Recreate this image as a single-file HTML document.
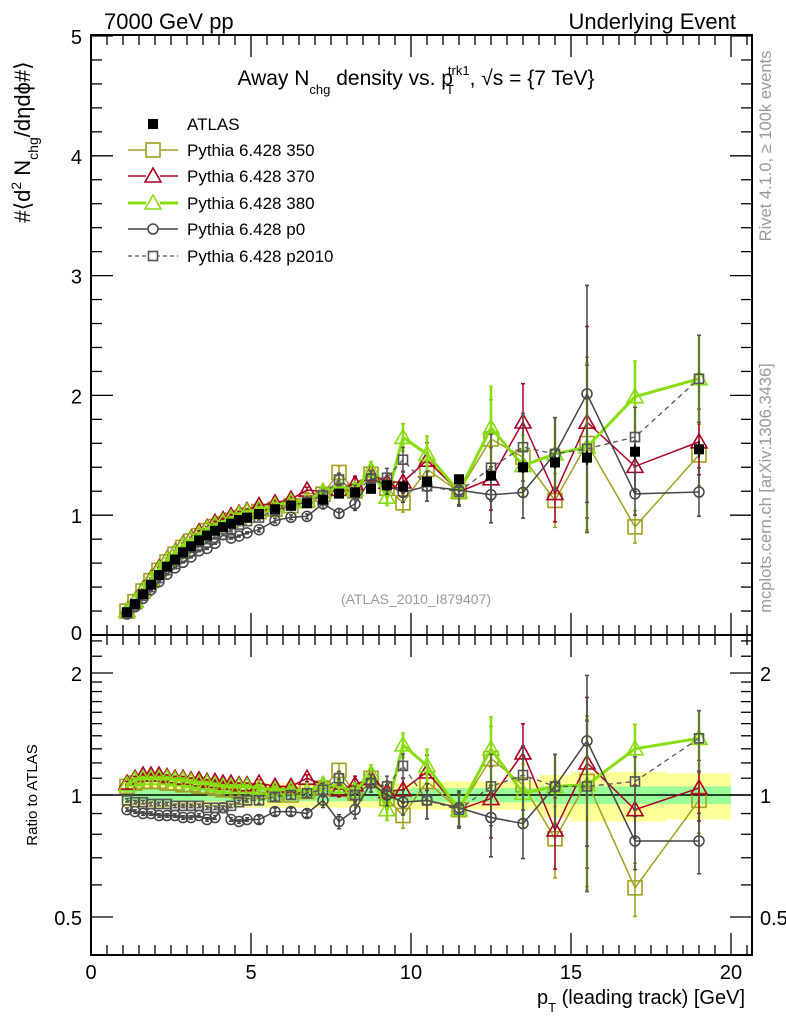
<!DOCTYPE html>
<html><head><meta charset="utf-8"><style>
html,body{margin:0;padding:0;background:#fff;}
svg{display:block;font-family:"Liberation Sans",sans-serif;}
</style></head><body>
<svg id="chart" width="786" height="1024" viewBox="0 0 786 1024" xmlns="http://www.w3.org/2000/svg">
<rect width="786" height="1024" fill="#fff"/>
<g id="bands"></g>
<g id="axes"></g>
<g id="series"></g>
<text x="104" y="29" font-size="22">7000 GeV pp</text>
<text x="736" y="29" font-size="22" text-anchor="end">Underlying Event</text>
<text x="416" y="85" font-size="21" text-anchor="middle">Away N<tspan font-size="13" dy="9">chg</tspan><tspan dy="-9"> density vs. p</tspan><tspan font-size="13" dy="9" dx="-7">T</tspan><tspan font-size="13" dy="-19" dx="-6">trk1</tspan><tspan dy="10">, √s = {7 TeV}</tspan></text>
<text x="416" y="604" font-size="14" fill="#999" text-anchor="middle">(ATLAS_2010_I879407)</text>
<text transform="translate(771,146) rotate(-90)" font-size="16.5" fill="#999" text-anchor="middle">Rivet 4.1.0, ≥ 100k events</text>
<text transform="translate(771,488) rotate(-90)" font-size="16.5" fill="#999" text-anchor="middle">mcplots.cern.ch [arXiv:1306.3436]</text>
<text transform="translate(30,142) rotate(-90)" font-size="22" text-anchor="middle">#⟨d<tspan font-size="14" dy="-9">2</tspan><tspan dy="9"> N</tspan><tspan font-size="14" dy="8">chg</tspan><tspan dy="-8">/dηdϕ#⟩</tspan></text>
<text transform="translate(37,795) rotate(-90)" font-size="15" text-anchor="middle">Ratio to ATLAS</text>
<text x="745" y="1004" font-size="20" text-anchor="end">p<tspan font-size="13" dy="8">T</tspan><tspan dy="-8"> (leading track) [GeV]</tspan></text>
<g id="legend"></g>
</svg>
<script>
const pt = [1.125,1.375,1.625,1.875,2.125,2.375,2.625,2.875,3.125,3.375,3.625,3.875,4.125,4.375,4.625,4.875,5.25,5.75,6.25,6.75,7.25,7.75,8.25,8.75,9.25,9.75,10.5,11.5,12.5,13.5,14.5,15.5,17,19];
const binEdges = [1,1.25,1.5,1.75,2,2.25,2.5,2.75,3,3.25,3.5,3.75,4,4.25,4.5,4.75,5,5.5,6,6.5,7,7.5,8,8.5,9,9.5,10,11,12,13,14,15,16,18,20];
const atlas = [0.19,0.26,0.34,0.42,0.5,0.57,0.63,0.69,0.74,0.79,0.83,0.87,0.9,0.93,0.96,0.98,1.01,1.05,1.08,1.1,1.13,1.18,1.19,1.22,1.25,1.24,1.28,1.3,1.33,1.4,1.44,1.48,1.53,1.55];
const atlasErr = [0.01,0.01,0.01,0.01,0.01,0.01,0.01,0.01,0.01,0.01,0.01,0.01,0.01,0.01,0.01,0.01,0.01,0.01,0.02,0.02,0.02,0.02,0.02,0.02,0.02,0.02,0.03,0.03,0.04,0.05,0.05,0.06,0.06,0.07];
const bandInner = [0.035,0.035,0.035,0.035,0.035,0.035,0.035,0.035,0.035,0.035,0.035,0.035,0.035,0.035,0.035,0.035,0.035,0.035,0.035,0.035,0.035,0.035,0.035,0.035,0.035,0.035,0.04,0.04,0.04,0.04,0.05,0.05,0.05,0.05];
const bandOuter = [0.07,0.07,0.07,0.07,0.07,0.07,0.07,0.07,0.07,0.07,0.07,0.07,0.07,0.07,0.07,0.07,0.07,0.07,0.07,0.07,0.07,0.07,0.07,0.07,0.07,0.07,0.08,0.08,0.08,0.08,0.12,0.14,0.14,0.13];
const r350 = [1.05,1.07,1.08,1.08,1.08,1.07,1.07,1.06,1.06,1.05,1.05,1.04,1.03,1.03,1.02,1.02,1.02,1.0,1.0,1.02,1.04,1.15,1.01,1.1,0.98,0.89,1.08,0.92,1.23,1.06,0.78,1.08,0.59,0.97];
const r370 = [1.07,1.1,1.12,1.12,1.12,1.11,1.1,1.1,1.09,1.09,1.08,1.08,1.07,1.07,1.06,1.06,1.07,1.05,1.05,1.1,1.06,1.03,1.06,1.1,1.02,1.03,1.14,0.92,0.98,1.27,0.82,1.2,0.92,1.04];
const r380 = [1.06,1.09,1.1,1.1,1.1,1.1,1.09,1.09,1.08,1.07,1.07,1.06,1.05,1.05,1.05,1.05,1.04,1.03,1.03,1.02,1.06,1.05,1.02,1.13,0.92,1.33,1.18,0.92,1.3,1.01,1.05,1.06,1.3,1.38];
const rp0 = [0.92,0.91,0.9,0.9,0.89,0.89,0.89,0.88,0.88,0.89,0.87,0.88,0.93,0.87,0.86,0.87,0.87,0.91,0.91,0.9,0.97,0.86,0.92,1.07,1.0,0.96,0.97,0.93,0.88,0.85,1.05,1.36,0.77,0.77];
const rp2010 = [0.97,0.96,0.96,0.95,0.95,0.95,0.94,0.94,0.94,0.94,0.93,0.93,0.93,0.94,0.96,0.97,0.97,0.99,1.0,1.01,1.03,1.1,1.0,1.07,1.05,1.18,0.97,0.92,1.05,1.12,1.05,1.05,1.08,1.38];
const mcRelErr = [0.01,0.01,0.01,0.01,0.01,0.01,0.01,0.01,0.01,0.01,0.01,0.01,0.01,0.01,0.01,0.01,0.02,0.02,0.02,0.02,0.04,0.04,0.05,0.05,0.06,0.07,0.1,0.1,0.2,0.18,0.2,0.45,0.15,0.17];
const xTicks = [0,5,10,15,20];
const yTicks = [0,1,2,3,4,5];
const rTicks = [0.5,1,2];

const NS='http://www.w3.org/2000/svg';
const X=v=>91+32*v;
const Y=v=>635-119.8*v;
const RY=r=>795-122*Math.log2(r);
function mk(parent,tag,attrs){const e=document.createElementNS(NS,tag);for(const k in attrs)e.setAttribute(k,attrs[k]);parent.appendChild(e);return e;}
const axes=document.getElementById('axes'),bands=document.getElementById('bands'),ser=document.getElementById('series'),leg=document.getElementById('legend');

for(let i=0;i<pt.length;i++){
  const x1=X(binEdges[i]),x2=X(binEdges[i+1]);
  const o=mk(bands,'rect',{x:x1,y:RY(1+bandOuter[i]),width:x2-x1,height:RY(1-bandOuter[i])-RY(1+bandOuter[i]),fill:'#ffff99'});
  
  
  const n=mk(bands,'rect',{x:x1,y:RY(1+bandInner[i]),width:x2-x1,height:RY(1-bandInner[i])-RY(1+bandInner[i]),fill:'#99ff99'});
  
  
}
mk(axes,'rect',{x:91,y:35,width:661,height:600,fill:'none',stroke:'#000','stroke-width':2});
mk(axes,'rect',{x:91,y:635,width:661,height:320,fill:'none',stroke:'#000','stroke-width':2});
mk(axes,'line',{x1:91,x2:752,y1:795,y2:795,stroke:'#000','stroke-width':1.5});
for(let v=0;v<=20.5;v+=0.5){
  const maj=Math.abs(v%5)<1e-6, len=maj?22:10;
  for(const [b,t] of [[635,35],[955,635]]){
    mk(axes,'line',{x1:X(v),x2:X(v),y1:b,y2:b-len,stroke:'#000','stroke-width':1.3});
    mk(axes,'line',{x1:X(v),x2:X(v),y1:t,y2:t+len,stroke:'#000','stroke-width':1.3});
  }
}
xTicks.forEach(v=>{const t=mk(axes,'text',{x:X(v),y:979,'font-size':20,'text-anchor':'middle'});t.textContent=v;

});
for(let v=0;v<=5.001;v+=0.2){
  const maj=Math.abs(v-Math.round(v))<1e-6,len=maj?22:11;
  mk(axes,'line',{x1:91,x2:91+len,y1:Y(v),y2:Y(v),stroke:'#000','stroke-width':1.3});
  mk(axes,'line',{x1:752,x2:752-len,y1:Y(v),y2:Y(v),stroke:'#000','stroke-width':1.3});
}
yTicks.forEach(v=>{const t=mk(axes,'text',{x:82,y:Math.min(Y(v)+8,640),'font-size':20,'text-anchor':'end'});t.textContent=v;

});
[0.4,0.5,0.6,0.7,0.8,0.9,1,1.1,1.2,1.3,1.4,1.5,1.6,1.7,1.8,1.9,2,2.2,2.4].forEach(r=>{
  const maj=rTicks.includes(r),len=maj?22:11,y=RY(r);
  if(y<636||y>954)return;
  mk(axes,'line',{x1:91,x2:91+len,y1:y,y2:y,stroke:'#000','stroke-width':1.3});
  mk(axes,'line',{x1:752,x2:752-len,y1:y,y2:y,stroke:'#000','stroke-width':1.3});
});
rTicks.forEach(r=>{
  const a=mk(axes,'text',{x:82,y:RY(r)+8,'font-size':20,'text-anchor':'end'});a.textContent=r;
  
  
  const b=mk(axes,'text',{x:760,y:RY(r)+8,'font-size':20});b.textContent=r;
  
  
});

function marker(g,type,x,y,col,sz){
  if(type==='fsq')mk(g,'rect',{x:x-5,y:y-5,width:10,height:10,fill:'#000'});
  else if(type==='sq')mk(g,'rect',{x:x-sz/2,y:y-sz/2,width:sz,height:sz,fill:'none',stroke:col,'stroke-width':1.6});
  else if(type==='tri')mk(g,'polygon',{points:`${x},${y-8} ${x-8},${y+6} ${x+8},${y+6}`,fill:'none',stroke:col,'stroke-width':1.6});
  else if(type==='circ')mk(g,'circle',{cx:x,cy:y,r:5,fill:'none',stroke:col,'stroke-width':1.5});
}
const specs=[
 {name:'pythia-350',ratio:r350,col:'#a0a020',type:'sq',sz:14,w:1.5,dash:null,label:'Pythia 6.428 350'},
 {name:'pythia-370',ratio:r370,col:'#aa0022',type:'tri',sz:14,w:1.5,dash:null,label:'Pythia 6.428 370'},
 {name:'pythia-380',ratio:r380,col:'#88dd11',type:'tri',sz:14,w:3,dash:null,label:'Pythia 6.428 380'},
 {name:'pythia-p0',ratio:rp0,col:'#444444',type:'circ',sz:10,w:1.5,dash:null,label:'Pythia 6.428 p0'},
 {name:'pythia-p2010',ratio:rp2010,col:'#555555',type:'sq',sz:9,w:1.3,dash:'5,4',label:'Pythia 6.428 p2010'}
];
specs.forEach(s=>{
  const g=mk(ser,'g',{});
  
  
  const main=s.ratio.map((r,i)=>atlas[i]*r);
  const mp=pt.map((p,i)=>X(p)+','+Y(main[i])).join(' ');
  const rp=pt.map((p,i)=>X(p)+','+RY(s.ratio[i])).join(' ');
  const la={fill:'none',stroke:s.col,'stroke-width':s.w};if(s.dash)la['stroke-dasharray']=s.dash;
  mk(g,'polyline',Object.assign({points:mp},la));
  mk(g,'polyline',Object.assign({points:rp},la));
  pt.forEach((p,i)=>{
    const e=mcRelErr[i],x=X(p);
    const y1=Y(main[i]*(1+e)),y2=Y(main[i]*(1-e));
    const r1=RY(s.ratio[i]*(1+e)),r2=RY(Math.max(s.ratio[i]*(1-e),0.35));
    [[y1,y2],[r1,r2]].forEach(([a,b])=>{
      mk(g,'line',{x1:x,x2:x,y1:a,y2:b,stroke:s.col,'stroke-width':s.w>2?2.5:1.5});
      mk(g,'line',{x1:x-2,x2:x+2,y1:a,y2:a,stroke:s.col,'stroke-width':1.5});
      mk(g,'line',{x1:x-2,x2:x+2,y1:b,y2:b,stroke:s.col,'stroke-width':1.5});
    });
    marker(g,s.type,x,Y(main[i]),s.col,s.sz);
    marker(g,s.type,x,RY(s.ratio[i]),s.col,s.sz);
  });
});
const ga=mk(ser,'g',{});


pt.forEach((p,i)=>{
  const x=X(p);
  mk(ga,'line',{x1:x,x2:x,y1:Y(atlas[i]+atlasErr[i]),y2:Y(atlas[i]-atlasErr[i]),stroke:'#000','stroke-width':1.5});
  marker(ga,'fsq',x,Y(atlas[i]));
});
const rows=[124,150,176,203,229,256];
const lfsq=mk(leg,'g',{});marker(lfsq,'fsq',153,rows[0]);
const t0=mk(leg,'text',{x:187,y:rows[0]+6,'font-size':17});t0.textContent='ATLAS';


specs.forEach((s,k)=>{
  const y=rows[k+1];
  const la={x1:128,x2:178,y1:y,y2:y,stroke:s.col,'stroke-width':s.w};if(s.dash)la['stroke-dasharray']='4,3';
  mk(leg,'line',la);
  mk(leg,'rect',{x:153-s.sz/2,y:y-s.sz/2,width:s.sz,height:s.sz,fill:'#fff',stroke:'none'});
  marker(leg,s.type,153,y,s.col,s.sz);
  const t=mk(leg,'text',{x:187,y:y+6,'font-size':17});t.textContent=s.label;
  
  
});
</script>
</body></html>
